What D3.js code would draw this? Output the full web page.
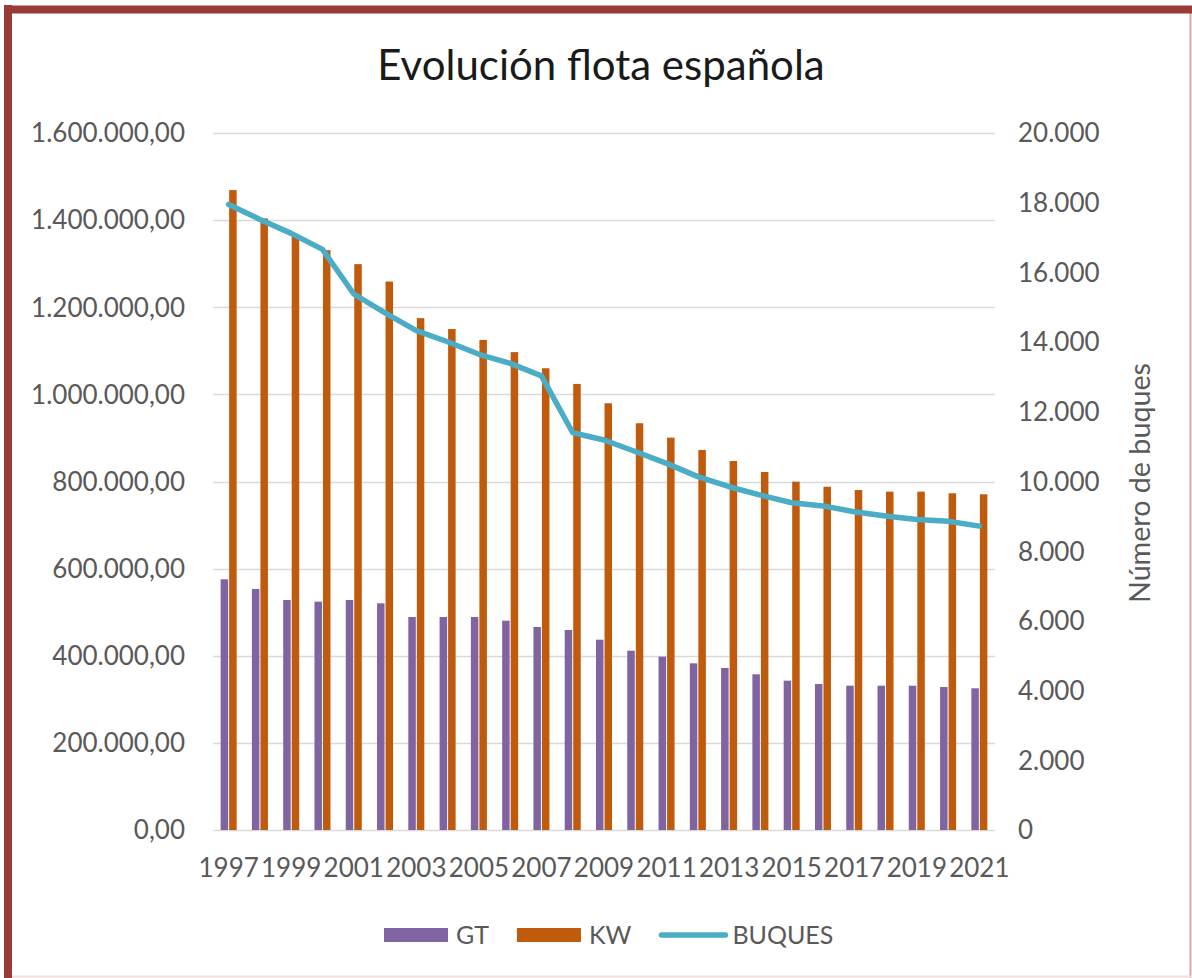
<!DOCTYPE html>
<html>
<head>
<meta charset="utf-8">
<script src="https://cdn.jsdelivr.net/npm/d3@7"></script>
<style>
  body { margin: 0; background: #fff; }
  svg text { font-family: Lato, "Open Sans", sans-serif; }
</style>
</head>
<body>
<script>

// data
var years = [1997, 1998, 1999, 2000, 2001, 2002, 2003, 2004, 2005, 2006, 2007, 2008,
             2009, 2010, 2011, 2012, 2013, 2014, 2015, 2016, 2017, 2018, 2019, 2020, 2021];
var gt = [575500, 553300, 528000, 524200, 528000, 520400, 489000, 489000, 489000, 480500, 466000, 459100,
          436900, 411600, 397900, 382600, 371900, 357400, 342800, 335200, 331300, 331300, 331300, 328300, 325300];
var kw = [1469000, 1404000, 1366000, 1331000, 1299000, 1259000, 1175000, 1150000, 1125000, 1097000, 1060000, 1024000,
          979600, 933700, 900700, 872400, 847000, 821900, 799600, 788000, 780500, 776700, 776700, 773000, 770600];
var buques = [17950, 17520, 17120, 16660, 15380, 14840, 14330, 14010, 13650, 13390, 13030, 11400,
              11190, 10860, 10520, 10140, 9850, 9610, 9390, 9300, 9130, 9010, 8910, 8860, 8720];
var leftTicks = [0, 200000, 400000, 600000, 800000, 1000000, 1200000, 1400000, 1600000];
var rightTicks = [0, 2000, 4000, 6000, 8000, 10000, 12000, 14000, 16000, 18000, 20000];
var seriesNames = ["GT", "KW", "BUQUES"];

var colors = {GT: "#8064a2", KW: "#c05a0c", BUQUES: "#4bacc6"};
var W = 1192, H = 978;

var svg = d3.select("body").append("svg").attr("width", W).attr("height", H);

// frame
svg.append("rect").attr("x", 0).attr("y", 0).attr("width", W).attr("height", H).attr("fill", "#fff");
svg.append("line").attr("x1", 1190.5).attr("x2", 1190.5).attr("y1", 9).attr("y2", 978)
    .attr("stroke", "#d7a9a5").attr("stroke-width", 2);
svg.append("line").attr("x1", 8).attr("x2", 1192).attr("y1", 976.5).attr("y2", 976.5)
    .attr("stroke", "#f1dedc").attr("stroke-width", 2);
svg.append("line").attr("x1", 8).attr("x2", 8).attr("y1", 5).attr("y2", 978)
    .attr("stroke", "#9a3b38").attr("stroke-width", 8);
svg.append("line").attr("x1", 4).attr("x2", 1192).attr("y1", 9.5).attr("y2", 9.5)
    .attr("stroke", "#9a3b38").attr("stroke-width", 8);

var plotL = 213, plotR = 995, plotT = 133, plotB = 830;

var x0 = d3.scaleBand().domain(years).range([plotL, plotR]).paddingInner(0.488).paddingOuter(0.244);
var x1 = d3.scaleBand().domain(["GT", "KW"]).range([0, x0.bandwidth()]).paddingInner(0.12);
var xc = function(d) { return x0(d) + x0.bandwidth() / 2; };
var yL = d3.scaleLinear().domain([0, 1600000]).range([plotB, plotT]);
var yR = d3.scaleLinear().domain([0, 20000]).range([plotB, plotT]);

var fmtL = function(v) {
  return d3.format(",.2f")(v).replace(/,/g, "#").replace(".", ",").replace(/#/g, ".");
};
var fmtR = function(v) { return d3.format(",")(v).replace(/,/g, "."); };

// gridlines
svg.append("g").selectAll("line").data(leftTicks).enter().append("line")
    .attr("x1", plotL).attr("x2", plotR)
    .attr("y1", function(d) { return Math.round(yL(d)) + 0.5; })
    .attr("y2", function(d) { return Math.round(yL(d)) + 0.5; })
    .attr("stroke", "#d9d9d9").attr("stroke-width", 1.3);

// left axis
var axL = svg.append("g").attr("transform", "translate(" + (plotL - 28) + ",0)")
    .call(d3.axisLeft(yL).tickValues(leftTicks).tickFormat(fmtL).tickSize(0).tickPadding(0));
axL.select(".domain").remove();
axL.selectAll("text").attr("fill", "#595959").style("font-size", "26px").attr("dy", "0.34em");

// right axis
var axR = svg.append("g").attr("transform", "translate(" + (plotR + 23) + ",0)")
    .call(d3.axisRight(yR).tickValues(rightTicks).tickFormat(fmtR).tickSize(0).tickPadding(0));
axR.select(".domain").remove();
axR.selectAll("text").attr("fill", "#595959").style("font-size", "26px").attr("dy", "0.34em");

// bottom axis
var axB = svg.append("g").attr("transform", "translate(0," + (plotB + 38) + ")")
    .call(d3.axisBottom(x0).tickValues(years.filter(function(d, i) { return i % 2 === 0; })).tickSize(0).tickPadding(0));
axB.select(".domain").remove();
axB.selectAll("text").attr("fill", "#595959").style("font-size", "26px").attr("dy", "0.34em");

// bars
var rows = years.map(function(y, i) { return {year: y, GT: gt[i], KW: kw[i]}; });
var grp = svg.append("g").selectAll("g").data(rows).enter().append("g")
    .attr("transform", function(d) { return "translate(" + x0(d.year) + ",0)"; });
grp.selectAll("rect").data(function(d) { return ["GT", "KW"].map(function(k) { return {k: k, v: d[k]}; }); })
    .enter().append("rect")
    .attr("x", function(d) { return x1(d.k); })
    .attr("width", x1.bandwidth())
    .attr("y", function(d) { return yL(d.v); })
    .attr("height", function(d) { return plotB - yL(d.v); })
    .attr("fill", function(d) { return colors[d.k]; });

// line
var line = d3.line().x(function(d, i) { return xc(years[i]); }).y(function(d) { return yR(d); });
svg.append("path").datum(buques).attr("d", line)
    .attr("fill", "none").attr("stroke", colors.BUQUES).attr("stroke-width", 5.5)
    .attr("stroke-linejoin", "round").attr("stroke-linecap", "round");

// title
svg.append("text").attr("x", 601).attr("y", 80).attr("text-anchor", "middle")
    .attr("fill", "#1a1a1a").style("font-size", "42px").text("Evolución flota española");

// right axis title
svg.append("text").attr("transform", "translate(1150,483) rotate(-90)")
    .attr("text-anchor", "middle").attr("fill", "#595959").style("font-size", "28px")
    .attr("textLength", 240).attr("lengthAdjust", "spacingAndGlyphs")
    .text("Número de buques");

// legend
var lg = svg.append("g");
var lx = 384, ly = 935;
seriesNames.forEach(function(name) {
  if (name === "BUQUES") {
    lg.append("line").attr("x1", lx + 2).attr("x2", lx + 66).attr("y1", ly).attr("y2", ly)
        .attr("stroke", colors[name]).attr("stroke-width", 5.5).attr("stroke-linecap", "round");
  } else {
    lg.append("rect").attr("x", lx).attr("y", ly - 7).attr("width", 64).attr("height", 14)
        .attr("fill", colors[name]);
  }
  var t = lg.append("text").attr("x", lx + (name === "BUQUES" ? 73 : 72)).attr("y", ly).attr("dy", "0.35em")
      .attr("fill", "#595959").style("font-size", "25px").text(name);
  lx += 72 + t.node().getComputedTextLength() + 28;
});

</script>
</body>
</html>
